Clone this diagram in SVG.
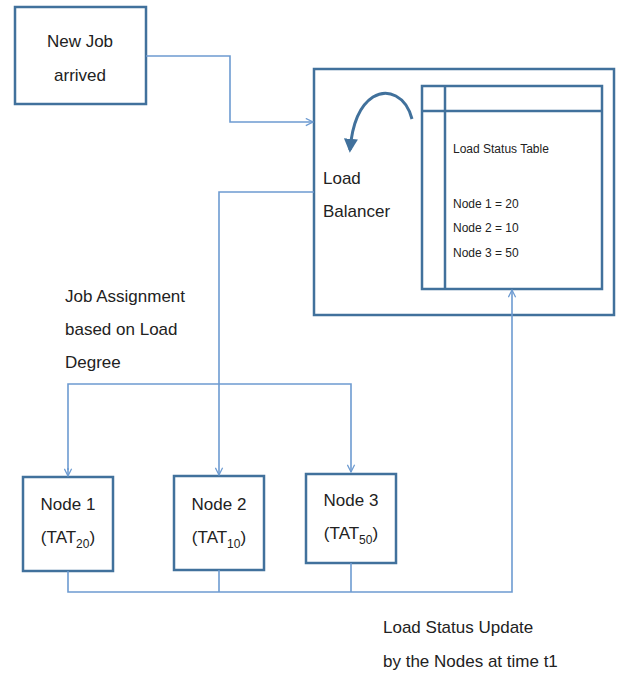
<svg xmlns="http://www.w3.org/2000/svg" width="622" height="675" viewBox="0 0 622 675">
  <style>
    .box { fill: #ffffff; stroke: #41719c; stroke-width: 2.5; }
    .line { fill: none; stroke: #6d9bd1; stroke-width: 1.6; }
    .lbl { font-family: "Liberation Sans", Arial, sans-serif; font-size: 17px; fill: #222222; }
    .small { font-family: "Liberation Sans", Arial, sans-serif; font-size: 12px; fill: #222222; }
    .mid { text-anchor: middle; }
  </style>
  <defs>
    <marker id="open" viewBox="0 0 10 10" refX="9" refY="5" markerWidth="9" markerHeight="9" markerUnits="userSpaceOnUse" orient="auto">
      <path d="M1,1 L9,5 L1,9" fill="none" stroke="#6d9bd1" stroke-width="1.4"/>
    </marker>
    <marker id="solid" viewBox="0 0 10 10" refX="8" refY="5" markerWidth="14" markerHeight="14" markerUnits="userSpaceOnUse" orient="auto">
      <path d="M0,0 L10,5 L0,10 Z" fill="#41719c"/>
    </marker>
  </defs>

  <g id="new-job">
    <rect class="box" x="15" y="7" width="131" height="97"/>
    <text class="lbl mid" x="80" y="47">New Job</text>
    <text class="lbl mid" x="80" y="81">arrived</text>
  </g>

  <g id="load-balancer">
    <rect class="box" x="314" y="69" width="300" height="246"/>
    <text class="lbl" x="323" y="184">Load</text>
    <text class="lbl" x="323" y="217">Balancer</text>
    <path d="M412,119 C406,96 388,88 373,97 C359,106 352,126 350,150" fill="none" stroke="#41719c" stroke-width="3" marker-end="url(#solid)"/>
  </g>

  <g id="load-status-table">
    <rect class="box" x="422" y="86" width="180" height="203"/>
    <line x1="422" y1="111" x2="602" y2="111" stroke="#41719c" stroke-width="2.5"/>
    <line x1="445" y1="86" x2="445" y2="289" stroke="#41719c" stroke-width="2.5"/>
    <text class="small" x="453" y="153">Load Status Table</text>
    <text class="small" x="453" y="208">Node 1 = 20</text>
    <text class="small" x="453" y="232">Node 2 = 10</text>
    <text class="small" x="453" y="257">Node 3 = 50</text>
  </g>

  <g id="node1">
    <rect class="box" x="23" y="477" width="90" height="94"/>
    <text class="lbl mid" x="68" y="510">Node 1</text>
    <text class="lbl mid" x="68" y="543">(TAT<tspan font-size="12" dy="5">20</tspan><tspan dy="-5">)</tspan></text>
  </g>

  <g id="node2">
    <rect class="box" x="174" y="476" width="90" height="94"/>
    <text class="lbl mid" x="219" y="510">Node 2</text>
    <text class="lbl mid" x="219" y="543">(TAT<tspan font-size="12" dy="5">10</tspan><tspan dy="-5">)</tspan></text>
  </g>

  <g id="node3">
    <rect class="box" x="306" y="474" width="90" height="89"/>
    <text class="lbl mid" x="351" y="506">Node 3</text>
    <text class="lbl mid" x="351" y="539">(TAT<tspan font-size="12" dy="5">50</tspan><tspan dy="-5">)</tspan></text>
  </g>

  <g id="labels">
    <text class="lbl" x="65" y="302">Job Assignment</text>
    <text class="lbl" x="65" y="335">based on Load</text>
    <text class="lbl" x="65" y="368">Degree</text>
    <text class="lbl" x="383" y="633">Load Status Update</text>
    <text class="lbl" x="383" y="667">by the Nodes at time t1</text>
  </g>

  <g id="connectors">
    <!-- new job into the balancer -->
    <path class="line" d="M146,56 H230 V122 H313" marker-end="url(#open)"/>
    <!-- balancer down to node 2 -->
    <path class="line" d="M314,192 H219 V475" marker-end="url(#open)"/>
    <!-- branch to nodes 1 and 3 -->
    <path class="line" d="M68,470 V384 H351 V472" marker-end="url(#open)"/>
    <line class="line" x1="68" y1="468" x2="68" y2="476" marker-end="url(#open)"/>
    <!-- status updates back to the table -->
    <path class="line" d="M68,571 V592 H512 V290" marker-end="url(#open)"/>
    <line class="line" x1="219" y1="570" x2="219" y2="592"/>
    <line class="line" x1="351" y1="563" x2="351" y2="592"/>
  </g>
</svg>
